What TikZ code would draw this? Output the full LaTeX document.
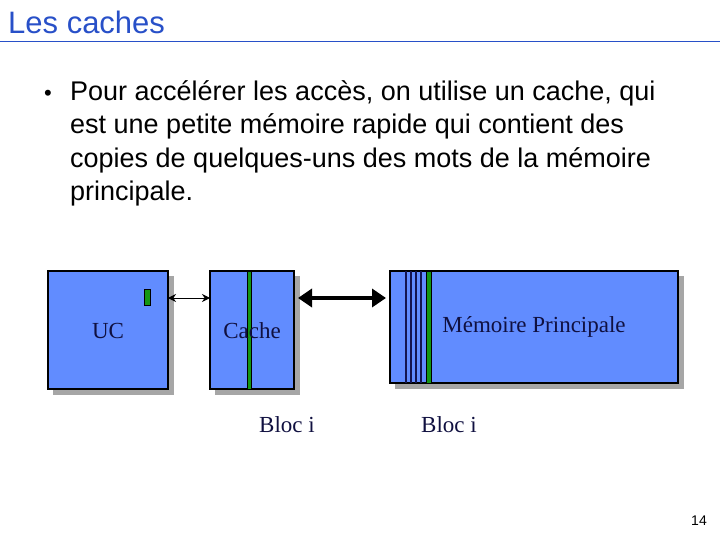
\documentclass[tikz,border=0pt]{standalone}
\usepackage{fontspec}
\setmainfont{Liberation Sans}
\newfontfamily\serif{Liberation Serif}
\usetikzlibrary{arrows.meta}
\definecolor{boxblue}{RGB}{97,140,255}
\definecolor{titleblue}{RGB}{40,80,200}
\definecolor{gr}{RGB}{20,150,20}
\definecolor{navy}{RGB}{20,20,80}
\tikzset{blk/.style={draw=black,line width=1.2pt,fill=boxblue,inner sep=0pt},
 shad/.style={fill=gray!70,draw=none},
 lab/.style={font=\serif\fontsize{23}{26}\selectfont,text=navy!80!black}}
\begin{document}
\begin{tikzpicture}[x=1pt,y=-1pt]
\useasboundingbox (0,0) rectangle (720,540);
\node[anchor=west,text=titleblue,font=\fontsize{31}{34}\selectfont,inner sep=0pt] (title) at (8,22) {Les caches};
\draw[titleblue,line width=1pt] (0,42) -- (720,42);
\node[anchor=north west,align=left,font=\fontsize{27}{33.5}\selectfont,inner sep=0pt] (txt) at (70,80)
 {Pour accélérer les accès, on utilise un cache, qui\\ est une petite mémoire rapide qui contient des\\ copies de quelques-uns des mots de la mémoire\\ principale.};
\node[font=\fontsize{22}{24}\selectfont,anchor=center,inner sep=0pt] (bul) at (48,95) {•};
% shadows
\fill[shad] (53,276) rectangle (174,395);
\fill[shad] (215,276) rectangle (300,395);
\fill[shad] (395,276) rectangle (684,389);
% boxes
\draw[blk] (48,271) rectangle (168,389);
\coordinate (uce) at (168,298);
\draw[blk] (210,271) rectangle (294,389);
\coordinate (cw) at (210,298);
\coordinate (ce) at (298,298);
\draw[blk] (390,271) rectangle (678,383);
\coordinate (mw) at (386,298);
\draw[fill=gr,draw=black,line width=0.8pt] (144,289) rectangle (150,305);
\draw[fill=gr,draw=black,line width=0.6pt] (247,271) rectangle (251,389);
\foreach \x in {406,411,416,421} \draw[navy,line width=1.2pt] (\x,271) -- (\x,383);
\draw[fill=gr,draw=black,line width=0.6pt] (426,271) rectangle (431,383);
\draw[{Stealth[length=8pt,width=8pt]}-{Stealth[length=8pt,width=8pt]},line width=1pt] (uce) -- (cw);
\draw[{Triangle[length=14pt,width=18pt]}-{Triangle[length=14pt,width=18pt]},line width=4pt] (ce) -- (mw);
\node[lab] (uc) at (108,331) {UC};
\node[lab] (cache) at (252,331) {Cache};
\node[lab] (mem) at (534,327) {Mémoire Principale};
\node[lab] (b1) at (287,425) {Bloc i};
\node[lab] (b2) at (449,425) {Bloc i};
\node[font=\fontsize{14}{16}\selectfont] (pg) at (699,521) {14};
\end{tikzpicture}
\end{document}
